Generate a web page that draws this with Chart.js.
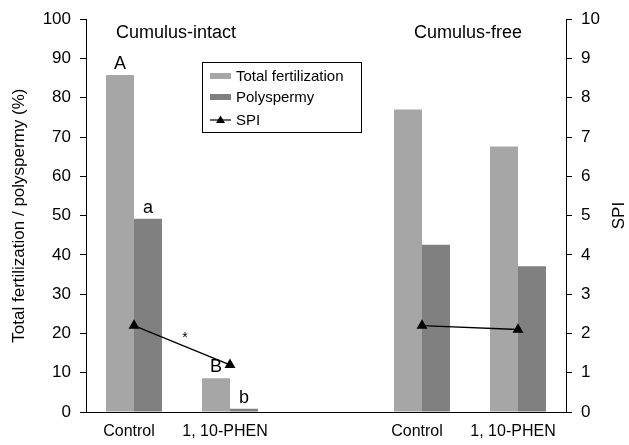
<!DOCTYPE html>
<html>
<head>
<meta charset="utf-8">
<script src="https://cdn.jsdelivr.net/npm/chart.js@4"></script>
<style>
  html, body { margin: 0; padding: 0; background: #fff; }
  #wrap { width: 629px; height: 445px; position: relative; }
</style>
</head>
<body>
<div id="wrap"><canvas id="myChart" width="629" height="445"></canvas></div>
<script>
// data
const categories = ["Control", "1, 10-PHEN", "", "Control", "1, 10-PHEN"];
const totalFertilization = [85.8, 8.6, null, 77.0, 67.6];
const polyspermy = [49.2, 0.8, null, 42.6, 37.1];
const spi = [2.2, 1.2, null, 2.2, 2.1];
const totalLetters = ["A", "B", "", "", ""];
const polyLetters = ["a", "b", "", "", ""];
const groupTitles = ["Cumulus-intact", "Cumulus-free"];
const leftTicks = [0, 10, 20, 30, 40, 50, 60, 70, 80, 90, 100];
const rightTicks = [0, 1, 2, 3, 4, 5, 6, 7, 8, 9, 10];

const FONT = "'Liberation Sans', Arial, sans-serif";
const lightGrey = "#a6a6a6";
const darkGrey = "#808080";

// letters, group titles, star, legend and right axis title
const extras = {
  id: "extras",
  afterDatasetsDraw(chart) {
    const ctx = chart.ctx;
    const y = chart.scales.y;
    const x = chart.scales.x;
    ctx.save();
    ctx.fillStyle = "#000";
    ctx.textAlign = "center";
    ctx.textBaseline = "alphabetic";
    ctx.font = "18px " + FONT;
    const m0 = chart.getDatasetMeta(0);
    const m1 = chart.getDatasetMeta(1);
    totalLetters.forEach((t, i) => {
      if (!t) return;
      const b = m0.data[i];
      ctx.fillText(t, b.x, b.y - 6);
    });
    polyLetters.forEach((t, i) => {
      if (!t) return;
      const b = m1.data[i];
      ctx.fillText(t, b.x, b.y - 6);
    });

    // group titles
    ctx.textBaseline = "middle";
    ctx.fillText(groupTitles[0], (x.getPixelForValue(0) + x.getPixelForValue(1)) / 2 - 6, y.getPixelForValue(96.6));
    ctx.fillText(groupTitles[1], (x.getPixelForValue(3) + x.getPixelForValue(4)) / 2 - 2, y.getPixelForValue(96.6));

    // star between the cumulus-intact SPI points
    const m2 = chart.getDatasetMeta(2);
    const p0 = m2.data[0], p1 = m2.data[1];
    ctx.font = "14px " + FONT;
    ctx.fillText("*", (p0.x + p1.x) / 2 + 3, (p0.y + p1.y) / 2 - 7);

    // right axis title, reading upward
    ctx.save();
    ctx.font = "17px " + FONT;
    ctx.translate(619, (chart.chartArea.top + chart.chartArea.bottom) / 2);
    ctx.rotate(-Math.PI / 2);
    ctx.fillText("SPI", 0, 0);
    ctx.restore();

    // legend box
    const lx = 202, ly = 62, lw = 159, lh = 70;
    ctx.fillStyle = "#fff";
    ctx.fillRect(lx, ly, lw, lh);
    ctx.strokeStyle = "#000";
    ctx.lineWidth = 1;
    ctx.strokeRect(lx + 0.5, ly + 0.5, lw, lh);
    const rows = [76, 97, 120];
    ctx.font = "15px " + FONT;
    ctx.textAlign = "left";
    chart.data.datasets.forEach((ds, i) => {
      const ry = rows[i];
      if (ds.type === "line") {
        ctx.strokeStyle = "#000";
        ctx.lineWidth = 1.2;
        ctx.beginPath();
        ctx.moveTo(210, ry);
        ctx.lineTo(231, ry);
        ctx.stroke();
        ctx.fillStyle = "#000";
        ctx.beginPath();
        ctx.moveTo(220.5, ry - 4.5);
        ctx.lineTo(225, ry + 3);
        ctx.lineTo(216, ry + 3);
        ctx.closePath();
        ctx.fill();
      } else {
        ctx.fillStyle = ds.backgroundColor;
        ctx.fillRect(210, ry - 3, 21, 6);
      }
      ctx.fillStyle = "#000";
      ctx.fillText(ds.label, 236, ry + 1);
    });
    ctx.restore();
  }
};

const ctx = document.getElementById("myChart");
const myChart = new Chart(ctx, {
  data: {
    labels: categories,
    datasets: [
      {
        type: "bar",
        label: "Total fertilization",
        data: totalFertilization,
        backgroundColor: lightGrey,
        categoryPercentage: 0.583,
        barPercentage: 1.0,
        yAxisID: "y",
        order: 2,
      },
      {
        type: "bar",
        label: "Polyspermy",
        data: polyspermy,
        backgroundColor: darkGrey,
        categoryPercentage: 0.583,
        barPercentage: 1.0,
        yAxisID: "y",
        order: 2,
      },
      {
        type: "line",
        label: "SPI",
        data: spi,
        borderColor: "#000",
        borderWidth: 1.3,
        backgroundColor: "#000",
        pointStyle: "triangle",
        pointRadius: 5,
        pointBackgroundColor: "#000",
        pointBorderColor: "#000",
        spanGaps: false,
        yAxisID: "y1",
        order: 0,
      },
    ],
  },
  options: {
    responsive: false,
    animation: false,
    devicePixelRatio: 1,
    layout: { padding: { top: 16, left: 0, right: 0, bottom: 0 } },
    plugins: {
      legend: { display: false },
      tooltip: { enabled: false },
    },
    scales: {
      x: {
        type: "category",
        grid: { display: true, drawOnChartArea: false, drawTicks: false },
        border: { color: "#000", width: 1 },
        ticks: {
          color: "#000",
          font: { family: FONT, size: 16 },
          padding: 10,
          labelOffset: -5,
          maxRotation: 0,
          autoSkip: false,
        },
        afterFit(scale) { scale.height = 33; },
      },
      y: {
        position: "left",
        min: 0,
        max: 100,
        afterBuildTicks(scale) { scale.ticks = leftTicks.map(v => ({ value: v })); },
        grid: { drawOnChartArea: false, tickLength: 6, tickColor: "#000" },
        border: { color: "#000", width: 1 },
        ticks: { color: "#000", font: { family: FONT, size: 17 }, padding: 9 },
        title: {
          display: true,
          text: "Total fertilization / polyspermy (%)",
          color: "#000",
          font: { family: FONT, size: 17 },
          padding: { top: 9, bottom: 0 },
        },
        afterFit(scale) { scale.width = 86; },
      },
      y1: {
        position: "right",
        min: 0,
        max: 10,
        afterBuildTicks(scale) { scale.ticks = rightTicks.map(v => ({ value: v })); },
        grid: { drawOnChartArea: false, tickLength: 6, tickColor: "#000" },
        border: { color: "#000", width: 1 },
        ticks: { color: "#000", font: { family: FONT, size: 17 }, padding: 9 },
        afterFit(scale) { scale.width = 63; },
      },
    },
  },
  plugins: [extras],
});
</script>
</body>
</html>
